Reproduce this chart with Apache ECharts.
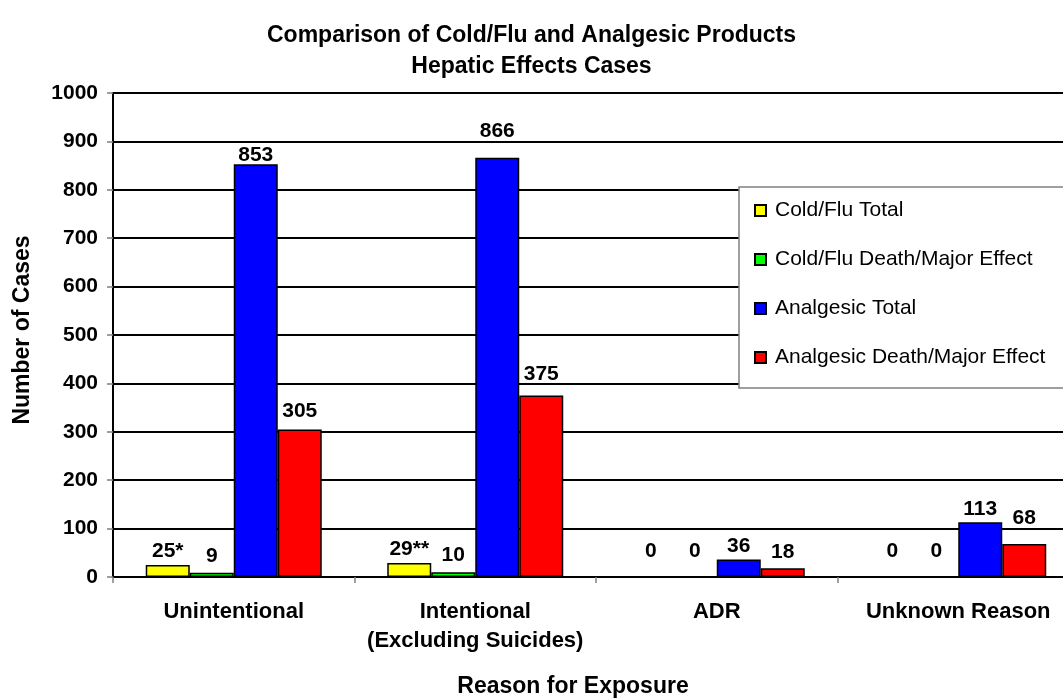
<!DOCTYPE html>
<html>
<head>
<meta charset="utf-8">
<title>Hepatic Effects Cases</title>
<script src="https://cdn.jsdelivr.net/npm/echarts@6/dist/echarts.min.js"></script>
<style>
  html, body { margin: 0; padding: 0; background: #ffffff; }
  #chart { width: 1063px; height: 700px; }
</style>
</head>
<body>
<div id="chart"></div>
<script>
// Reasons for exposure (category axis)
const categories = ['Unintentional', 'Intentional\n(Excluding Suicides)', 'ADR', 'Unknown Reason'];

// Case counts per series
const coldFluTotal = [25, 29, 0, 0];
const coldFluDeathMajor = [9, 10, 0, 0];
const analgesicTotal = [853, 866, 36, 113];
const analgesicDeathMajor = [305, 375, 18, 68];

// Printed labels for the cold/flu totals (footnote markers)
const coldFluTotalLabels = ['25*', '29**', '0', '0'];

// Value axis ticks
const yMin = 0;
const yMax = 1000;
const yStep = 100;

// Hand-placed vertical nudges of the value labels (px, negative = up)
const labelNudge = {
  coldFluTotal: [0, 0, -12, -12],
  coldFluDeathMajor: [-3, -3, -12, -12],
  analgesicTotal: [5, -13, 0, 0],
  analgesicDeathMajor: [-5, -8, -3, -12]
};

const FONT = '"Liberation Sans", Arial, Helvetica, sans-serif';

const labelStyle = {
  show: true,
  position: 'top',
  distance: 3,
  color: '#000',
  fontFamily: FONT,
  fontWeight: 'bold',
  fontSize: 21
};

function barSeries(name, values, color, nudge, labels) {
  return {
    name: name,
    type: 'bar',
    data: values.map(function (v, i) {
      return { value: v, label: { offset: [0, nudge[i]] } };
    }),
    barWidth: 44,
    barGap: '0%',
    itemStyle: { color: color, borderColor: '#000', borderWidth: 1.5 },
    label: Object.assign({}, labelStyle, labels ? {
      formatter: function (p) { return labels[p.dataIndex]; }
    } : {}),
    emphasis: { disabled: true }
  };
}

const chart = echarts.init(document.getElementById('chart'), null, { renderer: 'canvas' });

chart.setOption({
  animation: false,
  backgroundColor: '#ffffff',
  textStyle: { fontFamily: FONT },
  title: {
    text: 'Comparison of Cold/Flu and Analgesic Products\nHepatic Effects Cases',
    left: 'center',
    top: 15,
    textStyle: {
      fontFamily: FONT,
      fontWeight: 'bold',
      fontSize: 23,
      lineHeight: 31,
      color: '#000'
    }
  },
  legend: {
    orient: 'vertical',
    left: 739,
    top: 187,
    backgroundColor: '#ffffff',
    borderColor: '#808080',
    borderWidth: 1.5,
    padding: [13, 40, 20, 15],
    itemWidth: 11,
    itemHeight: 11,
    itemGap: 28,
    icon: 'rect',
    selectedMode: false,
    textStyle: {
      fontFamily: FONT,
      fontSize: 21,
      lineHeight: 21,
      color: '#000',
      padding: [0, 0, 0, 4]
    }
  },
  grid: {
    left: 113,
    top: 93,
    width: 966,
    height: 484,
    containLabel: false,
    outerBoundsMode: 'none'
  },
  xAxis: {
    type: 'category',
    data: categories,
    name: 'Reason for Exposure',
    nameLocation: 'middle',
    nameGap: 98,
    nameTextStyle: {
      fontFamily: FONT,
      fontWeight: 'bold',
      fontSize: 23,
      color: '#000',
      padding: [0, 46, 0, 0]
    },
    axisLine: { lineStyle: { color: '#000', width: 2 } },
    axisTick: { show: true, interval: 0, length: 6, lineStyle: { color: '#808080', width: 1.5 } },
    axisLabel: {
      interval: 0,
      margin: 20,
      fontFamily: FONT,
      fontWeight: 'bold',
      fontSize: 22,
      lineHeight: 29,
      color: '#000'
    },
    splitLine: { show: false }
  },
  yAxis: {
    type: 'value',
    min: yMin,
    max: yMax,
    interval: yStep,
    name: 'Number of Cases',
    nameLocation: 'middle',
    nameGap: 79,
    nameTextStyle: {
      fontFamily: FONT,
      fontWeight: 'bold',
      fontSize: 23,
      color: '#000',
      padding: [0, 0, 0, 10]
    },
    axisLine: { show: true, lineStyle: { color: '#000', width: 2 } },
    axisTick: { show: true, length: 6, lineStyle: { color: '#808080', width: 1.5 } },
    axisLabel: {
      margin: 15,
      fontFamily: FONT,
      fontWeight: 'bold',
      fontSize: 21,
      color: '#000',
      formatter: function (v) { return String(v); }
    },
    splitLine: { show: true, lineStyle: { color: '#000', width: 2 } }
  },
  series: [
    barSeries('Cold/Flu Total', coldFluTotal, '#ffff00', labelNudge.coldFluTotal, coldFluTotalLabels),
    barSeries('Cold/Flu Death/Major Effect', coldFluDeathMajor, '#00ff00', labelNudge.coldFluDeathMajor),
    barSeries('Analgesic Total', analgesicTotal, '#0000ff', labelNudge.analgesicTotal),
    barSeries('Analgesic Death/Major Effect', analgesicDeathMajor, '#ff0000', labelNudge.analgesicDeathMajor)
  ]
});
</script>
</body>
</html>
